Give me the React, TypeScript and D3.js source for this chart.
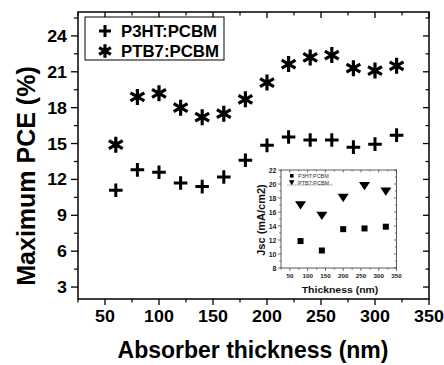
import React from 'react';
import * as d3 from 'd3';

// main plot data
const thickness = [60, 80, 100, 120, 140, 160, 180, 200, 220, 240, 260, 280, 300, 320];
const p3htPce = [11.1, 12.8, 12.6, 11.7, 11.4, 12.2, 13.6, 14.85, 15.55, 15.3, 15.3, 14.7, 14.95, 15.7];
const ptb7Pce = [14.9, 18.9, 19.2, 18.0, 17.2, 17.5, 18.7, 20.1, 21.65, 22.2, 22.4, 21.3, 21.1, 21.5];
const xTicks = [50, 100, 150, 200, 250, 300, 350];
const yTicks = [3, 6, 9, 12, 15, 18, 21, 24];
const seriesNames = ['P3HT:PCBM', 'PTB7:PCBM'];

// inset data
const insetThickness = [80, 140, 200, 260, 320];
const insetP3htJsc = [11.85, 10.5, 13.55, 13.65, 13.9];
const insetPtb7Jsc = [17.15, 15.65, 18.2, 19.9, 19.1];
const insetXTicks = [50, 100, 150, 200, 250, 300, 350];
const insetYTicks = [8, 10, 12, 14, 16, 18, 20, 22];

const FONT = 'Arial, "Liberation Sans", sans-serif';

const T = ({ x, y, size, anchor = 'start', weight = 'bold', sx = 1, rotate = 0, fill = '#000', children }: any) => (
  <text
    transform={`translate(${x},${y}) scale(${sx},1)${rotate ? ` rotate(${rotate})` : ''}`}
    fontFamily={FONT}
    fontSize={size}
    fontWeight={weight}
    textAnchor={anchor}
    fill={fill}
  >
    {children}
  </text>
);

const Plus = ({ x, y, r = 6.8 }: any) => (
  <path d={`M${x - r},${y}H${x + r}M${x},${y - r}V${y + r}`} stroke="#000" strokeWidth={3} fill="none" />
);

const Star = ({ x, y, r = 8 }: any) => {
  const a = Math.sin(Math.PI / 3) * r;
  const b = Math.cos(Math.PI / 3) * r;
  return (
    <path
      d={`M${x},${y - r}V${y + r}M${x - a},${y - b}L${x + a},${y + b}M${x - a},${y + b}L${x + a},${y - b}`}
      stroke="#000"
      strokeWidth={3.2}
      fill="none"
    />
  );
};

const App = () => {
  const W = 444;
  const H = 365;
  const m = { left: 78, right: 429, top: 12, bottom: 299 };
  const x = d3.scaleLinear().domain([25, 350]).range([m.left, m.right]);
  const y = d3.scaleLinear().domain([2, 26]).range([m.bottom, m.top]);

  const xMinor = d3.range(25, 351, 25).filter(v => !xTicks.includes(v));
  const yMinor = d3.range(1.5, 26, 3).filter(v => v > 2 && v < 26);

  // inset frame
  const im = { left: 281, right: 396.5, top: 170, bottom: 268 };
  const ix = d3.scaleLinear().domain([25, 350]).range([im.left, im.right]);
  const iy = d3.scaleLinear().domain([8, 22]).range([im.bottom, im.top]);
  const ixMinor = d3.range(25, 351, 25).filter(v => !insetXTicks.includes(v));
  const iyMinor = d3.range(9, 22, 2);

  const tri = d3.symbol().type(d3.symbolTriangle).size(40)();

  return (
    <svg width={W} height={H} style={{ position: 'absolute', left: 0, top: 0, background: '#fff' }}>
      <rect width={W} height={H} fill="#fff" />

      {/* main frame */}
      <rect x={m.left} y={m.top} width={m.right - m.left} height={m.bottom - m.top} fill="none" stroke="#000" strokeWidth={1.5} />

      {/* x ticks: bottom outward, top inward */}
      {xTicks.map(v => (
        <g key={`xt${v}`}>
          <line x1={x(v)} x2={x(v)} y1={m.bottom} y2={m.bottom + 6} stroke="#000" strokeWidth={1.3} />
          <line x1={x(v)} x2={x(v)} y1={m.top} y2={m.top + 6} stroke="#000" strokeWidth={1.3} />
          <T x={x(v)} y={m.bottom + 23} size={17} anchor="middle" sx={1.05}>{v}</T>
        </g>
      ))}
      {xMinor.map(v => (
        <g key={`xm${v}`}>
          <line x1={x(v)} x2={x(v)} y1={m.bottom} y2={m.bottom + 3.5} stroke="#000" strokeWidth={1.2} />
          <line x1={x(v)} x2={x(v)} y1={m.top} y2={m.top + 3.5} stroke="#000" strokeWidth={1.2} />
        </g>
      ))}

      {/* y ticks: left outward, right inward */}
      {yTicks.map(v => (
        <g key={`yt${v}`}>
          <line x1={m.left - 7} x2={m.left} y1={y(v)} y2={y(v)} stroke="#000" strokeWidth={1.3} />
          <line x1={m.right - 6} x2={m.right} y1={y(v)} y2={y(v)} stroke="#000" strokeWidth={1.3} />
          <T x={m.left - 11} y={y(v) + 6} size={17} anchor="end" sx={1.05}>{v}</T>
        </g>
      ))}
      {yMinor.map(v => (
        <g key={`ym${v}`}>
          <line x1={m.left - 4} x2={m.left} y1={y(v)} y2={y(v)} stroke="#000" strokeWidth={1.2} />
          <line x1={m.right - 3.5} x2={m.right} y1={y(v)} y2={y(v)} stroke="#000" strokeWidth={1.2} />
        </g>
      ))}

      {/* axis titles */}
      <T x={253} y={358} size={23} anchor="middle">Absorber thickness (nm)</T>
      <T x={35} y={176} size={25} anchor="middle" rotate={-90}>Maximum PCE (%)</T>

      {/* series */}
      {thickness.map((t, i) => <Plus key={`p${t}`} x={x(t)} y={y(p3htPce[i])} />)}
      {thickness.map((t, i) => <Star key={`s${t}`} x={x(t)} y={y(ptb7Pce[i])} />)}

      {/* legend */}
      <rect x={85} y={17} width={139} height={43} fill="#fff" stroke="#000" strokeWidth={1} />
      <Plus x={105} y={31} r={6} />
      <Star x={105} y={51} r={6.8} />
      <T x={121} y={37} size={16} sx={1.05}>{seriesNames[0]}</T>
      <T x={121} y={57} size={16} sx={1.05}>{seriesNames[1]}</T>

      {/* inset */}
      <rect x={im.left} y={im.top} width={im.right - im.left} height={im.bottom - im.top} fill="#fff" stroke="#333" strokeWidth={0.8} />
      {insetXTicks.map(v => (
        <g key={`ixt${v}`}>
          <line x1={ix(v)} x2={ix(v)} y1={im.bottom} y2={im.bottom + 3} stroke="#333" strokeWidth={0.7} />
          <line x1={ix(v)} x2={ix(v)} y1={im.top} y2={im.top + 2.5} stroke="#333" strokeWidth={0.7} />
          <T x={ix(v)} y={im.bottom + 10} size={6} anchor="middle" sx={1.05} fill="#222">{v}</T>
        </g>
      ))}
      {ixMinor.map(v => (
        <g key={`ixm${v}`}>
          <line x1={ix(v)} x2={ix(v)} y1={im.bottom} y2={im.bottom + 1.8} stroke="#333" strokeWidth={0.6} />
          <line x1={ix(v)} x2={ix(v)} y1={im.top} y2={im.top + 1.6} stroke="#333" strokeWidth={0.6} />
        </g>
      ))}
      {insetYTicks.map(v => (
        <g key={`iyt${v}`}>
          <line x1={im.left - 3} x2={im.left} y1={iy(v)} y2={iy(v)} stroke="#333" strokeWidth={0.7} />
          <line x1={im.right - 2.5} x2={im.right} y1={iy(v)} y2={iy(v)} stroke="#333" strokeWidth={0.7} />
          <T x={im.left - 4.5} y={iy(v) + 2.5} size={7} anchor="end" fill="#222">{v}</T>
        </g>
      ))}
      {iyMinor.map(v => (
        <g key={`iym${v}`}>
          <line x1={im.left - 1.8} x2={im.left} y1={iy(v)} y2={iy(v)} stroke="#333" strokeWidth={0.6} />
          <line x1={im.right - 1.6} x2={im.right} y1={iy(v)} y2={iy(v)} stroke="#333" strokeWidth={0.6} />
        </g>
      ))}
      <T x={340} y={293} size={9.5} anchor="middle" sx={1.1} fill="#111">Thickness (nm)</T>
      <T x={265} y={220} size={11} anchor="middle" rotate={-90} fill="#111">Jsc (mA/cm2)</T>

      {insetThickness.map((t, i) => (
        <rect key={`isq${t}`} x={ix(t) - 3} y={iy(insetP3htJsc[i]) - 3} width={6} height={6} fill="#000" />
      ))}
      {insetThickness.map((t, i) => (
        <path key={`itr${t}`} d={tri as string} transform={`translate(${ix(t)},${iy(insetPtb7Jsc[i])}) rotate(180) scale(1.15,1)`} fill="#000" />
      ))}

      {/* inset legend */}
      <line x1={287} x2={333} y1={185} y2={185} stroke="#888" strokeWidth={0.6} />
      <rect x={290} y={174} width={3.6} height={3.6} fill="#000" />
      <path d={d3.symbol().type(d3.symbolTriangle).size(14)() as string} transform="translate(291.7,182) rotate(180)" fill="#000" />
      <T x={298} y={178} size={5.5} weight="normal" fill="#333">{seriesNames[0]}</T>
      <T x={298} y={184.5} size={5.5} weight="normal" fill="#333">{seriesNames[1]}</T>
    </svg>
  );
};

export default App;
